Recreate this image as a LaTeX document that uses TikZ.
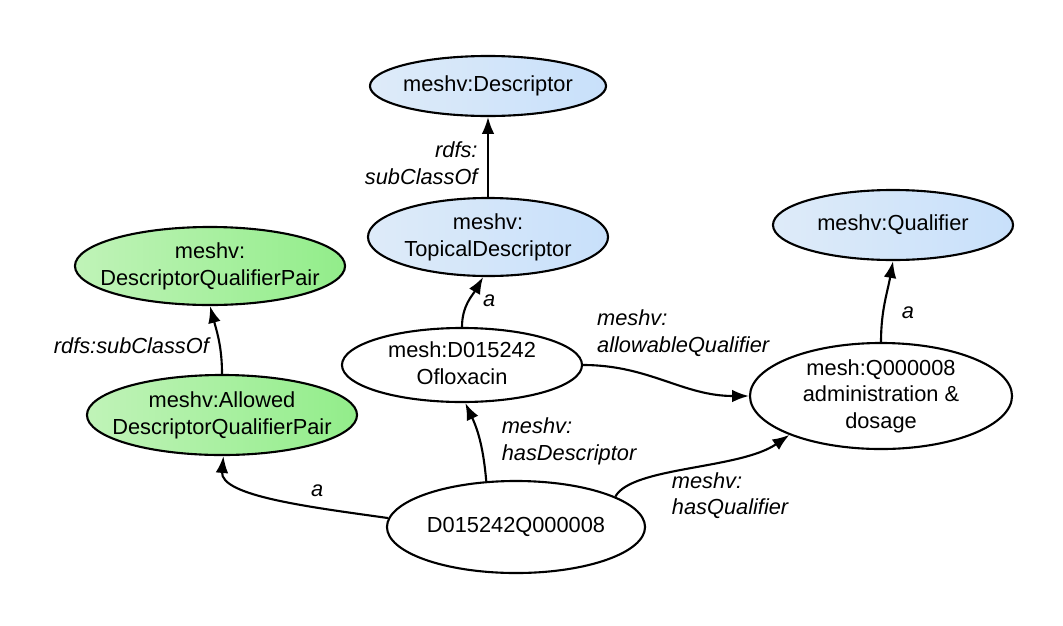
\documentclass[tikz,border=0pt]{standalone}
\usepackage{fontspec}
\setmainfont{Liberation Sans}
\usetikzlibrary{arrows.meta,shapes.geometric}

\definecolor{classlight}{RGB}{222,235,249}
\definecolor{classdark}{RGB}{200,224,250}
\definecolor{pairlight}{RGB}{192,243,184}
\definecolor{pairdark}{RGB}{146,237,138}
\newcommand{\ellipsetext}[1]{\smash{\makebox[0pt]{\raisebox{-0.25em}{\begin{tabular}{@{}c@{}}#1\end{tabular}}}}}

\begin{document}
\begin{tikzpicture}[
        x=0.025cm, y=-0.025cm,
        font=\fontsize{15.5}{19}\selectfont,
        >=Latex,
        classnode/.style={ellipse, draw=black, line width=1.5pt, left color=classlight, right color=classdark, inner sep=0pt},
        pairnode/.style={ellipse, draw=black, line width=1.5pt, left color=pairlight, right color=pairdark, inner sep=0pt},
        resnode/.style={ellipse, draw=black, line width=1.5pt, fill=white, inner sep=0pt},
        lbl/.style={font=\fontsize{15.5}{19}\selectfont\itshape, inner sep=1pt, align=left},
        link/.style={draw=black, line width=1.5pt, -{Latex[length=12pt,width=9pt]}}
    ]
        \useasboundingbox (0,0) rectangle (1063,625);

        \node[classnode, minimum width=5.9cm, minimum height=1.5cm] (desc) at (488,86) {\ellipsetext{meshv:Descriptor}};
        \node[classnode, minimum width=6cm, minimum height=1.95cm] (topical) at (488,237) {\ellipsetext{meshv:\\TopicalDescriptor}};
        \node[classnode, minimum width=6cm, minimum height=1.75cm] (qual) at (893,225) {\ellipsetext{meshv:Qualifier}};
        \node[pairnode, minimum width=6.75cm, minimum height=1.95cm] (pair) at (210,266) {\ellipsetext{meshv:\\DescriptorQualifierPair}};
        \node[pairnode, minimum width=6.75cm, minimum height=2cm] (allowed) at (222,415) {\ellipsetext{meshv:Allowed\\DescriptorQualifierPair}};
        \node[resnode, minimum width=6cm, minimum height=1.85cm] (oflox) at (462,365) {\ellipsetext{mesh:D015242\\Ofloxacin}};
        \node[resnode, minimum width=6.55cm, minimum height=2.65cm] (admin) at (881,396) {\ellipsetext{mesh:Q000008\\administration \&\\dosage}};
        \node[resnode, minimum width=6.45cm, minimum height=2.3cm] (dq) at (516,527) {\ellipsetext{D015242Q000008}};

        \draw[link] (topical.north) -- node[lbl, anchor=east, align=right, pos=0.42, xshift=-0.2cm] {rdfs:\\subClassOf} (desc.south);
        \draw[link] (oflox.north) to[out=90, in=-120] node[lbl, anchor=west, xshift=0.3cm] {a} (topical.-97);
        \draw[link] (allowed.north) to[out=90, in=-75] node[lbl, anchor=east, pos=0.4, xshift=-0.21cm] {rdfs:subClassOf} (pair.south);
        \draw[link] (admin.north) to[out=90, in=-100] node[lbl, anchor=west, pos=0.35, xshift=0.41cm] {a} (qual.south);
        \draw[link] (dq.176) to[out=172, in=-95, out distance=2cm, in distance=1cm] node[lbl, anchor=south, pos=0.3, yshift=0.2cm] {a} (allowed.-88);
        \draw[link] (dq.123) to[out=95, in=-65] node[lbl, anchor=west, pos=0.5, xshift=0.49cm] {meshv:\\hasDescriptor} (oflox.-85);
        \draw[link] (dq.17) to[out=62, in=-145, out distance=0.85cm, in distance=1.5cm] node[lbl, anchor=north west, pos=0.3, xshift=0.47cm, yshift=0.17cm] {meshv:\\hasQualifier} (admin.-157);
        \draw[link] (oflox.east) to[out=0, in=180] node[lbl, anchor=south west, pos=0, xshift=0.29cm, yshift=0.16cm] {meshv:\\allowableQualifier} (admin.west);
    \end{tikzpicture}
\end{document}
